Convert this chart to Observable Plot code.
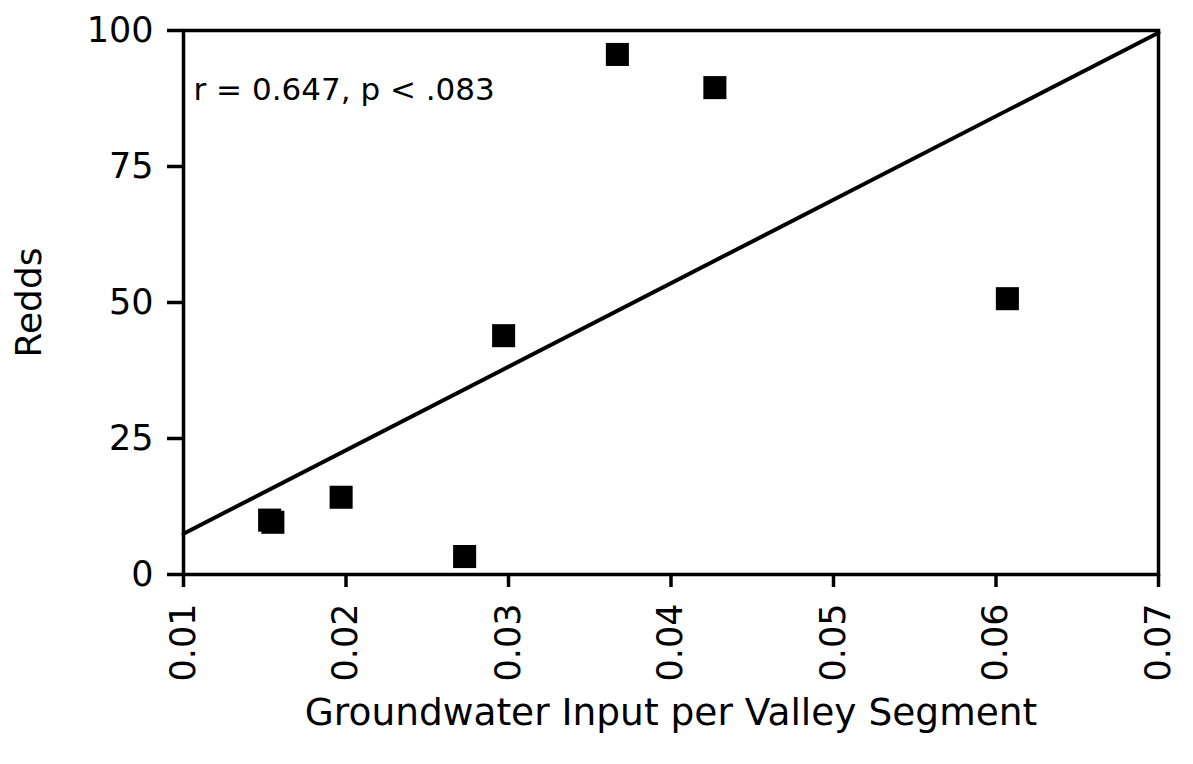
<!DOCTYPE html>
<html>
<head>
<meta charset="utf-8">
<script src="https://cdn.jsdelivr.net/npm/d3@7"></script>
<script src="https://cdn.jsdelivr.net/npm/@observablehq/plot@0.6"></script>
<style>
  html, body { margin: 0; padding: 0; background: #fff; }
  #chart svg { display: block; }
</style>
</head>
<body>
<div id="chart"></div>
<script>
// Data
const groundwater = [0.0153, 0.0155, 0.0197, 0.0273, 0.0297, 0.0367, 0.0427, 0.0607];
const redds       = [10.0,   9.6,    14.2,   3.3,    43.9,   95.6,   89.5,   50.7];
const fitX = [0.01, 0.07];
const fitY = [7.5, 99.6];
const xTicks = [0.01, 0.02, 0.03, 0.04, 0.05, 0.06, 0.07];
const yTicks = [0, 25, 50, 75, 100];
const annotation = "r = 0.647, p < .083";

const points = groundwater.map((x, i) => ({x, y: redds[i]}));
const fit = fitX.map((x, i) => ({x, y: fitY[i]}));

const chart = Plot.plot({
  width: 1193,
  height: 764,
  marginLeft: 183,
  marginRight: 35,
  marginTop: 30,
  marginBottom: 190,
  style: {fontFamily: "'DejaVu Sans', sans-serif", fontSize: "35px", color: "#000", background: "#fff"},
  x: {domain: [0.01, 0.07]},
  y: {domain: [0, 100]},
  marks: [
    Plot.frame({stroke: "#000", strokeWidth: 3.5}),
    Plot.axisY({ticks: yTicks, tickSize: 16, tickPadding: 14, strokeWidth: 3.5, fontSize: 35,
      label: null}),
    Plot.axisY({ticks: [], tickSize: 0, label: "Redds", labelAnchor: "center", labelArrow: "none",
      labelOffset: 168, fontSize: 36}),
    Plot.axisX({ticks: xTicks, tickSize: 13, tickPadding: 16, strokeWidth: 3.5, fontSize: 35,
      tickRotate: -90, tickFormat: d3.format(".2f"), label: null}),
    Plot.axisX({ticks: [], tickSize: 0, label: "Groundwater Input per Valley Segment", labelAnchor: "center",
      labelArrow: "none", labelOffset: 150, fontSize: 37.5}),
    Plot.line(fit, {x: "x", y: "y", stroke: "#000", strokeWidth: 4}),
    Plot.dot(points, {x: "x", y: "y", symbol: "square", r: 13, fill: "#000", stroke: "none"}),
    Plot.text([annotation], {frameAnchor: "top-left", dx: 10, dy: 47, text: d => d, textAnchor: "start", fontSize: 31, fill: "#000"})
  ]
});
document.getElementById("chart").appendChild(chart);
</script>
</body>
</html>
